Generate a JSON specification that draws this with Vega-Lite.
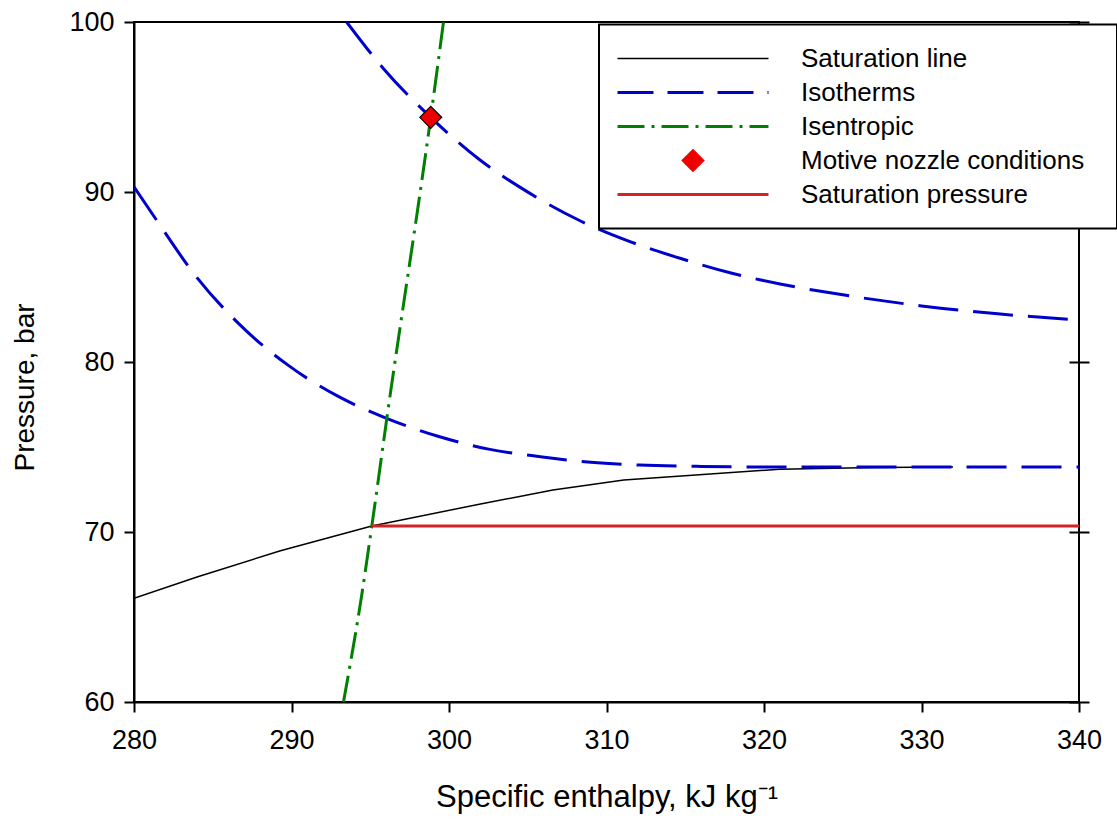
{
  "$schema": "https://vega.github.io/schema/vega-lite/v6.json",
  "width": 945,
  "height": 680,
  "autosize": "none",
  "padding": {"left": 134, "top": 22, "right": 38, "bottom": 120},
  "background": "white",
  "config": {
    "view": {"stroke": "black", "strokeWidth": 2},
    "font": "Liberation Sans",
    "axis": {
      "domainColor": "black", "domainWidth": 2, "tickColor": "black", "tickWidth": 2, "tickSize": 10,
      "labelColor": "black", "titleColor": "black", "labelFont": "Liberation Sans", "titleFont": "Liberation Sans",
      "labelFontSize": 27, "grid": false, "titleFontWeight": "normal"
    }
  },
  "data": {
    "values": [
      {"s": "Saturation line", "c": "sat", "h": 280, "p": 66.1},
      {"s": "Saturation line", "c": "sat", "h": 284, "p": 67.35},
      {"s": "Saturation line", "c": "sat", "h": 289.3, "p": 68.9},
      {"s": "Saturation line", "c": "sat", "h": 295.1, "p": 70.35},
      {"s": "Saturation line", "c": "sat", "h": 302, "p": 71.65},
      {"s": "Saturation line", "c": "sat", "h": 306.6, "p": 72.47},
      {"s": "Saturation line", "c": "sat", "h": 311.1, "p": 73.06},
      {"s": "Saturation line", "c": "sat", "h": 321, "p": 73.69},
      {"s": "Saturation line", "c": "sat", "h": 327, "p": 73.8},
      {"s": "Saturation line", "c": "sat", "h": 332, "p": 73.82},

      {"s": "Isotherms", "c": "T1", "h": 280, "p": 90.3},
      {"s": "Isotherms", "c": "T1", "h": 281.5, "p": 88.25},
      {"s": "Isotherms", "c": "T1", "h": 283.8, "p": 85.2},
      {"s": "Isotherms", "c": "T1", "h": 286.6, "p": 82.3},
      {"s": "Isotherms", "c": "T1", "h": 289.8, "p": 79.8},
      {"s": "Isotherms", "c": "T1", "h": 293.0, "p": 77.96},
      {"s": "Isotherms", "c": "T1", "h": 296.0, "p": 76.7},
      {"s": "Isotherms", "c": "T1", "h": 299.3, "p": 75.63},
      {"s": "Isotherms", "c": "T1", "h": 302.6, "p": 74.86},
      {"s": "Isotherms", "c": "T1", "h": 305.8, "p": 74.43},
      {"s": "Isotherms", "c": "T1", "h": 309.0, "p": 74.1},
      {"s": "Isotherms", "c": "T1", "h": 312.1, "p": 73.94},
      {"s": "Isotherms", "c": "T1", "h": 316, "p": 73.86},
      {"s": "Isotherms", "c": "T1", "h": 321, "p": 73.82},
      {"s": "Isotherms", "c": "T1", "h": 340, "p": 73.82},

      {"s": "Isotherms", "c": "T2", "h": 293.5, "p": 100},
      {"s": "Isotherms", "c": "T2", "h": 295.83, "p": 97.27},
      {"s": "Isotherms", "c": "T2", "h": 298.84, "p": 94.39},
      {"s": "Isotherms", "c": "T2", "h": 301.97, "p": 91.88},
      {"s": "Isotherms", "c": "T2", "h": 305.14, "p": 89.92},
      {"s": "Isotherms", "c": "T2", "h": 308.32, "p": 88.31},
      {"s": "Isotherms", "c": "T2", "h": 311.49, "p": 87.08},
      {"s": "Isotherms", "c": "T2", "h": 314.67, "p": 86.1},
      {"s": "Isotherms", "c": "T2", "h": 317.84, "p": 85.25},
      {"s": "Isotherms", "c": "T2", "h": 321.02, "p": 84.59},
      {"s": "Isotherms", "c": "T2", "h": 325, "p": 83.95},
      {"s": "Isotherms", "c": "T2", "h": 330, "p": 83.3},
      {"s": "Isotherms", "c": "T2", "h": 335, "p": 82.82},
      {"s": "Isotherms", "c": "T2", "h": 340, "p": 82.47},

      {"s": "Isentropic", "c": "S", "h": 293.3, "p": 60},
      {"s": "Isentropic", "c": "S", "h": 294.46, "p": 66.3},
      {"s": "Isentropic", "c": "S", "h": 295.1, "p": 70.35},
      {"s": "Isentropic", "c": "S", "h": 296.04, "p": 76.6},
      {"s": "Isentropic", "c": "S", "h": 298.84, "p": 94.39},
      {"s": "Isentropic", "c": "S", "h": 299.65, "p": 100},

      {"s": "Motive nozzle conditions", "c": "M", "h": 298.84, "p": 94.39},

      {"s": "Saturation pressure", "c": "SP", "h": 295.1, "p": 70.35},
      {"s": "Saturation pressure", "c": "SP", "h": 340, "p": 70.35}
    ]
  },
  "encoding": {
    "x": {
      "field": "h", "type": "quantitative",
      "scale": {"domain": [280, 340], "nice": false, "zero": false},
      "axis": {
        "values": [280, 290, 300, 310, 320, 330, 340],
        "title": "Specific enthalpy, kJ kg⁻¹",
        "titleFontSize": 31, "titleY": 104.5, "titleBaseline": "alphabetic",
        "labelPadding": 15, "labelFlush": false
      }
    },
    "y": {
      "field": "p", "type": "quantitative",
      "scale": {"domain": [60, 100], "nice": false, "zero": false},
      "axis": null
    }
  },
  "resolve": {"axis": {"y": "independent"}},
  "layer": [
    {
      "transform": [{"filter": "datum.s === 'Saturation line'"}],
      "mark": {"type": "line", "strokeWidth": 1.5, "clip": true},
      "encoding": {
        "y": {
          "field": "p", "type": "quantitative",
          "scale": {"domain": [60, 100], "nice": false, "zero": false},
          "axis": {
            "values": [60, 70, 80, 90, 100], "title": "Pressure, bar",
            "titleFontSize": 28, "titleX": -101, "titleY": 365, "titleBaseline": "alphabetic",
            "titleAngle": -90, "titleAlign": "center", "labelPadding": 10
          }
        },
        "color": {
          "field": "s", "type": "nominal",
          "scale": {
            "domain": ["Saturation line", "Isotherms", "Isentropic", "Motive nozzle conditions", "Saturation pressure"],
            "range": ["black", "#0000cc", "#008000", "#ee0000", "#d62222"]
          },
          "legend": {
            "orient": "none", "legendX": 465, "legendY": 2.5,
            "title": "\u00a0", "titleOrient": "right", "titlePadding": 16, "titleFontSize": 26,
            "direction": "vertical", "columns": 1,
            "fillColor": "white", "strokeColor": "black", "padding": 17,
            "symbolType": "stroke", "symbolSize": 22800, "clipHeight": 34, "rowPadding": 0,
            "labelOffset": 31, "labelFontSize": 26, "labelFont": "Liberation Sans", "labelColor": "black", "labelLimit": 0,
            "encode": {
              "symbols": {"update": {
                "shape": {"signal": "(datum.value === 'Motive nozzle conditions' ? 'diamond' : 'stroke')"},
                "size": {"signal": "(datum.value === 'Motive nozzle conditions' ? 480 : 22800)"},
                "stroke": {"signal": "(datum.value === 'Motive nozzle conditions' ? 'black' : datum.value === 'Isotherms' ? '#0000cc' : datum.value === 'Isentropic' ? '#008000' : datum.value === 'Saturation pressure' ? '#d62222' : 'black')"},
                "fill": {"signal": "(datum.value === 'Motive nozzle conditions' ? '#ee0000' : 'transparent')"},
                "strokeWidth": {"signal": "(datum.value === 'Saturation line' ? 1.5 : datum.value === 'Motive nozzle conditions' ? 1.2 : 3)"},
                "strokeDash": {"signal": "(datum.value === 'Isotherms' ? [36, 14] : datum.value === 'Isentropic' ? [27, 7, 3, 7] : [1, 0])"},
                "opacity": {"value": 1}
              }},
              "legend": {"update": {"strokeWidth": {"value": 2}}}
            }
          }
        }
      }
    },
    {
      "transform": [{"filter": "datum.s === 'Isotherms'"}],
      "mark": {"type": "line", "strokeWidth": 3, "strokeDash": [40, 15], "interpolate": "monotone", "clip": true},
      "encoding": {
        "y": {
          "field": "p", "type": "quantitative",
          "scale": {"domain": [60, 100], "nice": false, "zero": false},
          "axis": {
            "orient": "right", "offset": -10, "tickSize": 20, "labels": false, "domain": false,
            "title": null, "values": [60, 70, 80, 90, 100]
          }
        },
        "color": {"field": "s", "type": "nominal"},
        "detail": {"field": "c", "type": "nominal"}
      }
    },
    {
      "transform": [{"filter": "datum.s === 'Isentropic'"}],
      "mark": {"type": "line", "strokeWidth": 3, "strokeDash": [27, 7, 3, 7], "interpolate": "monotone", "clip": true},
      "encoding": {
        "color": {"field": "s", "type": "nominal"}
      }
    },
    {
      "transform": [{"filter": "datum.s === 'Saturation pressure'"}],
      "mark": {"type": "line", "strokeWidth": 3, "clip": true},
      "encoding": {
        "color": {"field": "s", "type": "nominal"}
      }
    },
    {
      "transform": [{"filter": "datum.s === 'Motive nozzle conditions'"}],
      "mark": {"type": "point", "shape": "diamond", "filled": true, "fill": "#ee0000", "stroke": "black", "strokeWidth": 1.2, "size": 480, "opacity": 1},
      "encoding": {}
    }
  ]
}
